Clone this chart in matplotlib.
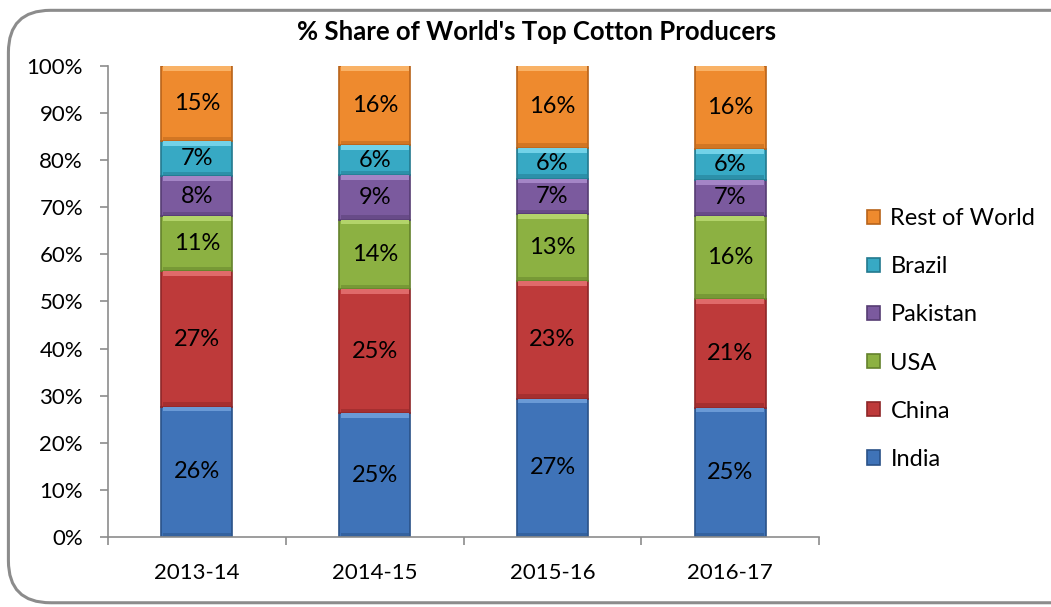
import numpy as np
import matplotlib
matplotlib.use("Agg")
import matplotlib.pyplot as plt
from matplotlib.patches import FancyBboxPatch
from matplotlib.ticker import PercentFormatter

plt.rcParams['font.family'] = ['Lato', 'DejaVu Sans']

# 产量份额 (%)
years = ["2013-14", "2014-15", "2015-16", "2016-17"]
countries = ["India", "China", "USA", "Pakistan", "Brazil", "Rest of World"]
india = [26, 25, 27, 25]
china = [27, 25, 23, 21]
usa = [11, 14, 13, 16]
pakistan = [8, 9, 7, 7]
brazil = [7, 6, 6, 6]
rest = [15, 16, 16, 16]

colors = ["#3f73b8", "#be3a3a", "#8cb142", "#7b5a9e", "#37a9c4", "#ee8a2e"]
edges = ["#2a5288", "#8e2628", "#64822c", "#563d73", "#23798f", "#b8631a"]
lights = ["#6a9ad6", "#e06a6a", "#b3d46a", "#a485c6", "#72d2e8", "#f9b266"]

series = np.array([india, china, usa, pakistan, brazil, rest], dtype=float)
share = series / series.sum(axis=0) * 100  # 100% 堆积

fig = plt.figure(figsize=(10.51, 6.07), dpi=100)
ax = fig.add_axes([0.1028, 0.1153, 0.6766, 0.776])

# 圆角外框 (右侧超出画面)
frame = FancyBboxPatch((0.008, 0.007), 1.05, 0.976, boxstyle="round,pad=0,rounding_size=0.04",
                       transform=fig.transFigure, fill=False, edgecolor="#8c8c8c", linewidth=2.2,
                       mutation_aspect=1051 / 607)
fig.patches.append(frame)

x = np.arange(len(years))
w = 0.40
bottom = np.zeros(len(years))
handles = []
for i, name in enumerate(countries):
    h = ax.bar(x, share[i], w, bottom=bottom, color=colors[i], edgecolor=edges[i],
               linewidth=1.2, label=name, zorder=2)
    handles.append(h)
    # 顶部高光 / 底部阴影
    band = np.minimum(1.0, share[i])
    ax.bar(x, band, w * 0.96, bottom=bottom + share[i] - band,
           color=lights[i], linewidth=0, zorder=3)
    ax.bar(x, band * 0.8, w * 0.96, bottom=bottom + 0.15,
           color=edges[i], alpha=0.5, linewidth=0, zorder=3)
    for j in range(len(years)):
        ax.text(x[j], bottom[j] + share[i][j] / 2, f"{int(series[i][j])}%",
                ha="center", va="center", fontsize=17, color="black", zorder=4)
    bottom += share[i]

ax.set_xlim(-0.5, len(years) - 0.5)
ax.set_ylim(0, 100)
ax.set_yticks(np.arange(0, 101, 10))
ax.yaxis.set_major_formatter(PercentFormatter(decimals=0))
ax.set_xticks(x)
ax.set_xticklabels(years)
ax.set_xticks(np.arange(-0.5, len(years)), minor=True)
ax.tick_params(axis="x", which="major", length=0, pad=19, labelsize=16)
ax.tick_params(axis="x", which="minor", length=6, color="#8c8c8c", width=1.2)
ax.tick_params(axis="y", length=6, color="#8c8c8c", width=1.2, labelsize=16, pad=12)
for s in ["top", "right"]:
    ax.spines[s].set_visible(False)
for s in ["left", "bottom"]:
    ax.spines[s].set_color("#8c8c8c")
    ax.spines[s].set_linewidth(1.2)

fig.text(0.511, 0.947, "% Share of World's Top Cotton Producers", fontsize=18.5,
         fontweight="bold", ha="center", va="center")

fig.legend(handles[::-1], countries[::-1], loc="center left", bbox_to_anchor=(0.8045, 0.4415),
           frameon=False, fontsize=17, labelspacing=1.15, handlelength=0.55, handleheight=0.55,
           handletextpad=0.45)

fig.savefig("out.png", dpi=100)
